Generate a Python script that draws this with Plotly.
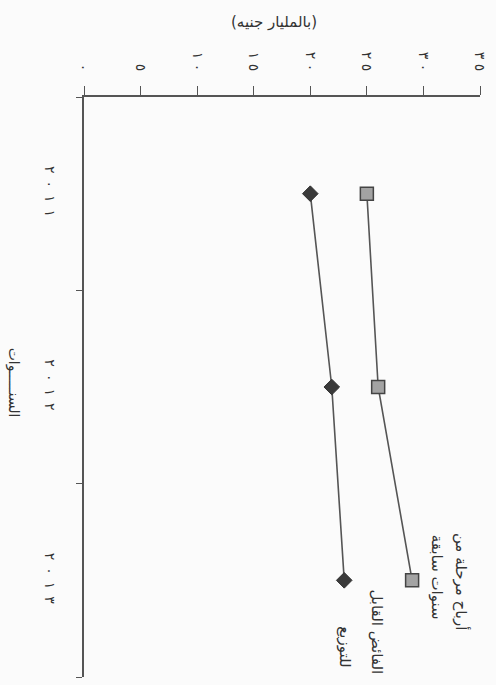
import plotly.graph_objects as go

years = ["٢٠١١", "٢٠١٢", "٢٠١٣"]
retained = [25.0, 26.0, 29.0]      # أرباح مرحلة من سنوات سابقة
distributable = [20.0, 21.9, 23.0]  # الفائض القابل للتوزيع
x_tickvals = [0, 5, 10, 15, 20, 25, 30, 35]
x_ticktext = ["٠", "٥", "١٠", "١٥", "٢٠", "٢٥", "٣٠", "٣٥"]

W, H = 496, 685
L, R, T, B = 84, 14, 97, 8
pw, ph = W - L - R, H - T - B

def px(x):
    return (x - L) / pw

def py(y):
    return (H - B - y) / ph

def spaced(s, sep="\u2002"):
    # left-to-right override so the widened digit string keeps its order
    return "\u202d" + sep.join(list(s)) + "\u202c"

FONT = "DejaVu Sans"
TXT = "#333333"

fig = go.Figure()
fig.add_trace(go.Scatter(
    x=retained, y=years, mode="lines+markers",
    line=dict(color="#555555", width=1.6),
    marker=dict(symbol="square", size=13, color="#a3a3a3",
                line=dict(color="#444444", width=1.5)),
    showlegend=False))
fig.add_trace(go.Scatter(
    x=distributable, y=years, mode="lines+markers",
    line=dict(color="#555555", width=1.6),
    marker=dict(symbol="diamond", size=12, color="#3a3a3a",
                line=dict(color="#333333", width=1)),
    showlegend=False))

fig.update_layout(
    width=W, height=H,
    margin=dict(l=L, r=R, t=T, b=B),
    paper_bgcolor="#fbfbfb", plot_bgcolor="#fbfbfb",
    font=dict(family=FONT, color=TXT, size=13),
    xaxis=dict(side="top", range=[0, 35], tickvals=x_tickvals,
               ticktext=[spaced(t, "\u2004") for t in x_ticktext],
               tickangle=90, ticks="outside", ticklen=9, tickcolor="#555555",
               ticklabelstandoff=10,
               showline=True, linecolor="#555555", linewidth=1.5,
               showgrid=False, zeroline=False, tickfont=dict(size=14)),
    yaxis=dict(type="category", range=[2.5, -0.5], tickson="boundaries",
               tickvals=years, ticktext=[spaced(t) for t in years],
               tickangle=90, ticks="outside", ticklen=6, tickcolor="#555555",
               ticklabelstandoff=20,
               showline=True, linecolor="#555555", linewidth=1.5,
               showgrid=False, zeroline=False, tickfont=dict(size=14)),
)

ann = [
    dict(text="(بالمليار جنيه)", x=px(275), y=py(22), textangle=0, size=15),
    dict(text="السنـــــوات", x=px(14), y=py(383), textangle=90, size=14),
    dict(text="أرباح مرحلة من", x=px(464), y=py(581), textangle=90, size=15),
    dict(text="سنوات سابقة", x=px(439), y=py(577), textangle=90, size=15),
    dict(text="الفائض القابل", x=px(378), y=py(632), textangle=90, size=15),
    dict(text="للتوزيع", x=px(346), y=py(647), textangle=90, size=15),
]
for a in ann:
    fig.add_annotation(text=a["text"], x=a["x"], y=a["y"], xref="paper", yref="paper",
                       showarrow=False, textangle=a["textangle"],
                       xanchor="center", yanchor="middle",
                       font=dict(family=FONT, size=a["size"], color=TXT))

fig.write_html("out.html", config={"displayModeBar": False},
               post_script="document.body.style.margin='0';")
